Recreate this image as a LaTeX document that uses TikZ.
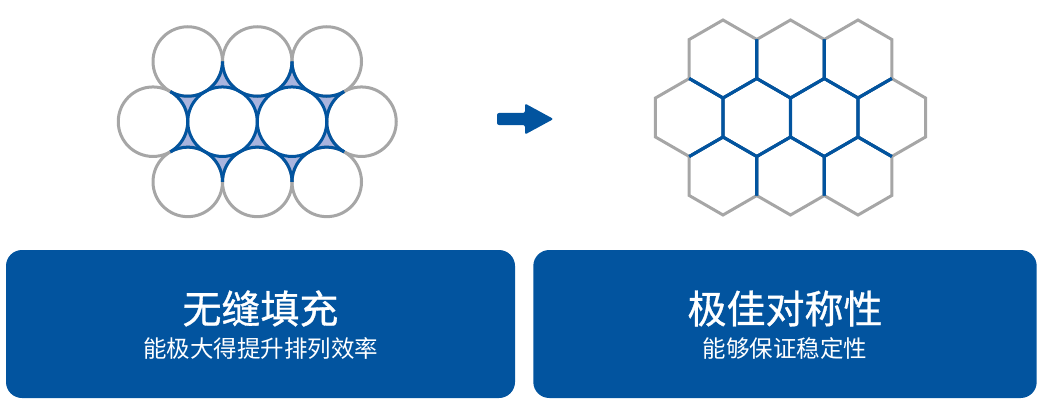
\documentclass[tikz,border=0pt]{standalone}
\usepackage{fontspec}
\newfontfamily\cjk{Noto Sans CJK SC}
\newfontfamily\cjkhead[FakeBold=0.8]{Noto Sans CJK SC}
\usepackage{xcolor}
\usepackage{tikz}
\usetikzlibrary{positioning}

\definecolor{brandblue}{HTML}{02549F}
\definecolor{edgegray}{HTML}{A6A6A6}
\definecolor{gapblue}{HTML}{A9B4DE}

\begin{document}
\begin{tikzpicture}[
  x=1pt,
  y=1pt,
  cellgray/.style={
    draw=edgegray,
    line width=3pt
  },
  cellblue/.style={
    draw=brandblue,
    line width=3pt
  },
  panel/.style={
    rectangle,
    fill=brandblue,
    rounded corners=16pt,
    minimum height=148pt,
    inner sep=0pt
  },
  paneltitle/.style={
    text=white,
    inner sep=0pt,
    font=\cjkhead\fontsize{39}{40}\selectfont
  },
  panelsub/.style={
    text=white,
    inner sep=0pt,
    font=\cjk\fontsize{23.5}{25}\selectfont
  }
]
\useasboundingbox (0,0) rectangle (1048,-409);
\def\circR{34.75pt}
\def\hexR{39pt}
% outer cells: centre / blue range
\def\circcells{187.75/-61.5/240/360, 257.25/-61.5/180/360,
  326.75/-61.5/180/300, 153/-121.7/-60/60, 361.5/-121.7/120/240,
  187.75/-181.9/0/120, 257.25/-181.9/0/180, 326.75/-181.9/60/180}
\def\hexcells{723/-59/240/360, 790.5/-59/180/360,
  858/-59/180/300, 689.25/-117.5/-60/60, 891.75/-117.5/120/240,
  723/-176/0/120, 790.5/-176/0/180, 858/-176/60/180}

% packed circles
\fill[gapblue]
  (153,-121.7) -- (187.75,-61.5) -- (326.75,-61.5)
  -- (361.5,-121.7) -- (326.75,-181.9) -- (187.75,-181.9) -- cycle;
\foreach \cx/\cy/\a/\b in \circcells
  \fill[white] (\cx,\cy) circle[radius=\circR];
\foreach \cx in {222.5,292}
  \fill[white] (\cx,-121.7) circle[radius=\circR];
\foreach \cx/\cy/\a/\b in \circcells
  \draw[cellgray] (\cx,\cy) circle[radius=\circR];
\foreach \cx/\cy/\a/\b in \circcells
  \draw[cellblue] (\cx,\cy) ++(\a:\circR)
    arc[start angle=\a, end angle=\b, radius=\circR];
\foreach \cx in {222.5,292}
  \draw[cellblue] (\cx,-121.7) circle[radius=\circR];

% arrow
\fill[brandblue, rounded corners=2pt]
  (497,-113) -- (525,-113) -- (525,-103.5) -- (553.5,-119)
  -- (525,-134.5) -- (525,-125) -- (497,-125) -- cycle;

% honeycomb
\foreach \cx/\cy/\a/\b in \hexcells
  \draw[cellgray, shift={(\cx,\cy)}]
    (30:\hexR) -- (90:\hexR) -- (150:\hexR) -- (210:\hexR)
    -- (270:\hexR) -- (330:\hexR) -- cycle;
\foreach \cx/\cy/\a/\b in \hexcells {
  \pgfmathtruncatemacro\vs{\a-30}
  \pgfmathtruncatemacro\vn{\a+30}
  \pgfmathtruncatemacro\vnn{\a+90}
  \pgfmathtruncatemacro\ve{\b+30}
  \draw[cellblue, shift={(\cx,\cy)}]
    (\vs:\hexR) \foreach \t in {\vn,\vnn,...,\ve} { -- (\t:\hexR) };
}
\foreach \cx in {756.75,824.25}
  \draw[cellblue, shift={(\cx,-117.5)}]
    (30:\hexR) -- (90:\hexR) -- (150:\hexR) -- (210:\hexR)
    -- (270:\hexR) -- (330:\hexR) -- cycle;

% panels
\node[panel, minimum width=509pt] (fillpanel) at (260.5,-324) {};
\node[paneltitle] (filltitle)
  at ([yshift=15.5pt]fillpanel.center) {无缝填充};
\node[panelsub, below=11pt of filltitle] (fillsub)
  {能极大得提升排列效率};
\node[panel, minimum width=503.4pt] (sympanel) at (785,-324) {};
\node[paneltitle] (symtitle)
  at ([yshift=15.5pt]sympanel.center) {极佳对称性};
\node[panelsub, below=11pt of symtitle] (symsub)
  {能够保证稳定性};
\end{tikzpicture}
\end{document}
